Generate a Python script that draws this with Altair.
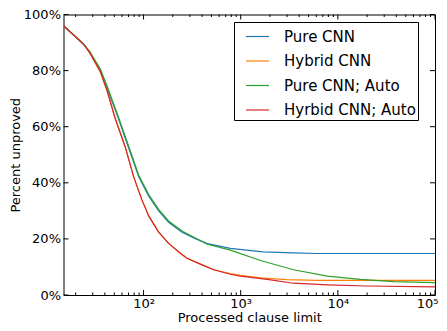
import altair as alt
import pandas as pd

# ---- data ----
series_names = ["Pure CNN", "Hybrid CNN", "Pure CNN; Auto", "Hyrbid CNN; Auto"]
series_colors = ["#1f77b4", "#ff7f0e", "#2ca02c", "#d62728"]

pure_x = [15, 24, 28, 36, 42, 55, 70, 89, 113, 143, 181, 249, 341, 454, 783, 1700, 3500, 6000, 100000]
pure_y = [96, 89.5, 86.5, 80, 74, 63, 52.6, 42.2, 35.2, 30, 25.9, 22.4, 20.1, 18.3, 16.6, 15.4, 15.0, 14.8, 14.8]

pure_auto_x = [15, 24, 28, 36, 42, 55, 70, 89, 113, 143, 181, 249, 341, 454, 783, 1600, 3500, 7800, 17000, 37500, 100000]
pure_auto_y = [96, 89.6, 86.8, 80.5, 74.6, 63.6, 53.2, 42.8, 35.8, 30.5, 26.4, 22.8, 20.3, 18.1, 16.0, 12.3, 9.0, 6.7, 5.6, 4.8, 4.4]

hybrid_x = [15, 24, 28, 36, 42, 51, 65, 79, 96, 113, 143, 181, 239, 280, 385, 527, 783, 993, 1600, 3000, 6000, 100000]
hybrid_y = [96, 89.5, 86.3, 79.5, 73, 63, 52.6, 42.2, 34, 28.2, 22.4, 18.4, 14.9, 13.1, 11.0, 9.0, 7.6, 7.0, 6.1, 5.5, 5.2, 5.2]

hybrid_auto_x = [15, 24, 28, 36, 42, 51, 65, 79, 96, 113, 143, 181, 239, 280, 385, 527, 783, 993, 1871, 3490, 7830, 20000, 100000]
hybrid_auto_y = [96, 89.5, 86.3, 79.5, 73, 63, 52.6, 42.2, 34, 28.2, 22.4, 18.4, 14.9, 13.1, 11.0, 9.0, 7.4, 6.7, 5.6, 4.2, 3.6, 3.2, 2.9]

x_major = [100, 1000, 10000, 100000]
x_minor = [20, 30, 40, 50, 60, 70, 80, 90,
           200, 300, 400, 500, 600, 700, 800, 900,
           2000, 3000, 4000, 5000, 6000, 7000, 8000, 9000,
           20000, 30000, 40000, 50000, 60000, 70000, 80000, 90000]
y_ticks = [0, 0.2, 0.4, 0.6, 0.8, 1.0]

# ---- build table ----
rows = []
for name, xs, ys in [
    (series_names[0], pure_x, pure_y),
    (series_names[1], hybrid_x, hybrid_y),
    (series_names[2], pure_auto_x, pure_auto_y),
    (series_names[3], hybrid_auto_x, hybrid_auto_y),
]:
    for i, (a, b) in enumerate(zip(xs, ys)):
        rows.append({"series": name, "x": a, "y": b / 100.0, "i": i})
df = pd.DataFrame(rows)

W, H = 371.5, 280.5

xscale = alt.Scale(type="log", domain=[15, 100000], nice=False)
yscale = alt.Scale(domain=[0, 1], nice=False)

font = "DejaVu Sans"

lines = alt.Chart(df).mark_line(strokeWidth=1.2, clip=True).encode(
    x=alt.X("x:Q", scale=xscale,
            axis=alt.Axis(title="Processed clause limit", values=x_major, ticks=False, domain=False,
                          grid=False,
                          labelExpr="datum.value == 100 ? '10²' : datum.value == 1000 ? '10³' : datum.value == 10000 ? '10⁴' : '10⁵'",
                          labelFontSize=13, titleFontSize=13, labelPadding=2, titlePadding=1,
                          labelFlush=True, labelFlushOffset=3, labelOverlap=False)),
    y=alt.Y("y:Q", scale=yscale,
            axis=alt.Axis(title="Percent unproved", values=y_ticks, format=".0%", ticks=False,
                          domain=False, grid=False, labelFontSize=13, titleFontSize=13,
                          labelPadding=3, titlePadding=1, labelFlush=False)),
    color=alt.Color("series:N", scale=alt.Scale(domain=series_names, range=series_colors),
                    sort=series_names,
                    legend=alt.Legend(title=None, orient="none", legendX=170.5, legendY=7.5,
                                      symbolType="stroke", symbolSize=529, symbolStrokeWidth=1.2,
                                      labelFontSize=15, labelOffset=14, symbolOffset=9,
                                      labelExpr="datum.label + '\u00a0\u00a0'",
                                      padding=2, rowPadding=3.5, strokeColor="black",
                                      fillColor="white", cornerRadius=0, labelFont=font)),
    detail="series:N",
    order="i:Q",
)

xmaj_df = pd.DataFrame({"x": x_major})
xmin_df = pd.DataFrame({"x": x_minor})
y_df = pd.DataFrame({"y": y_ticks})

tick_color = "black"
xmaj_bottom = alt.Chart(xmaj_df).mark_rule(color=tick_color, strokeWidth=1).encode(
    x=alt.X("x:Q", scale=xscale), y=alt.value(H), y2=alt.value(H - 5))
xmaj_top = alt.Chart(xmaj_df).mark_rule(color=tick_color, strokeWidth=1).encode(
    x=alt.X("x:Q", scale=xscale), y=alt.value(0), y2=alt.value(5))
xmin_bottom = alt.Chart(xmin_df).mark_rule(color=tick_color, strokeWidth=1).encode(
    x=alt.X("x:Q", scale=xscale), y=alt.value(H), y2=alt.value(H - 2.5))
xmin_top = alt.Chart(xmin_df).mark_rule(color=tick_color, strokeWidth=1).encode(
    x=alt.X("x:Q", scale=xscale), y=alt.value(0), y2=alt.value(2.5))
y_left = alt.Chart(y_df).mark_rule(color=tick_color, strokeWidth=1).encode(
    y=alt.Y("y:Q", scale=yscale), x=alt.value(0), x2=alt.value(5))
y_right = alt.Chart(y_df).mark_rule(color=tick_color, strokeWidth=1).encode(
    y=alt.Y("y:Q", scale=yscale), x=alt.value(W - 5), x2=alt.value(W))

chart = alt.layer(
    lines, xmaj_bottom, xmaj_top, xmin_bottom, xmin_top, y_left, y_right
).properties(
    width=W, height=H,
    autosize=alt.AutoSizeParams(type="none"),
    padding={"left": 55.5, "top": 6.5, "right": 4, "bottom": 28},
).configure_view(
    stroke="black", strokeWidth=1
).configure_axis(
    labelFont=font, titleFont=font, labelColor="black", titleColor="black",
    titleFontWeight="normal"
).configure_legend(
    labelColor="black"
)

chart.save("out.html", embed_options={"renderer": "svg", "actions": False})
